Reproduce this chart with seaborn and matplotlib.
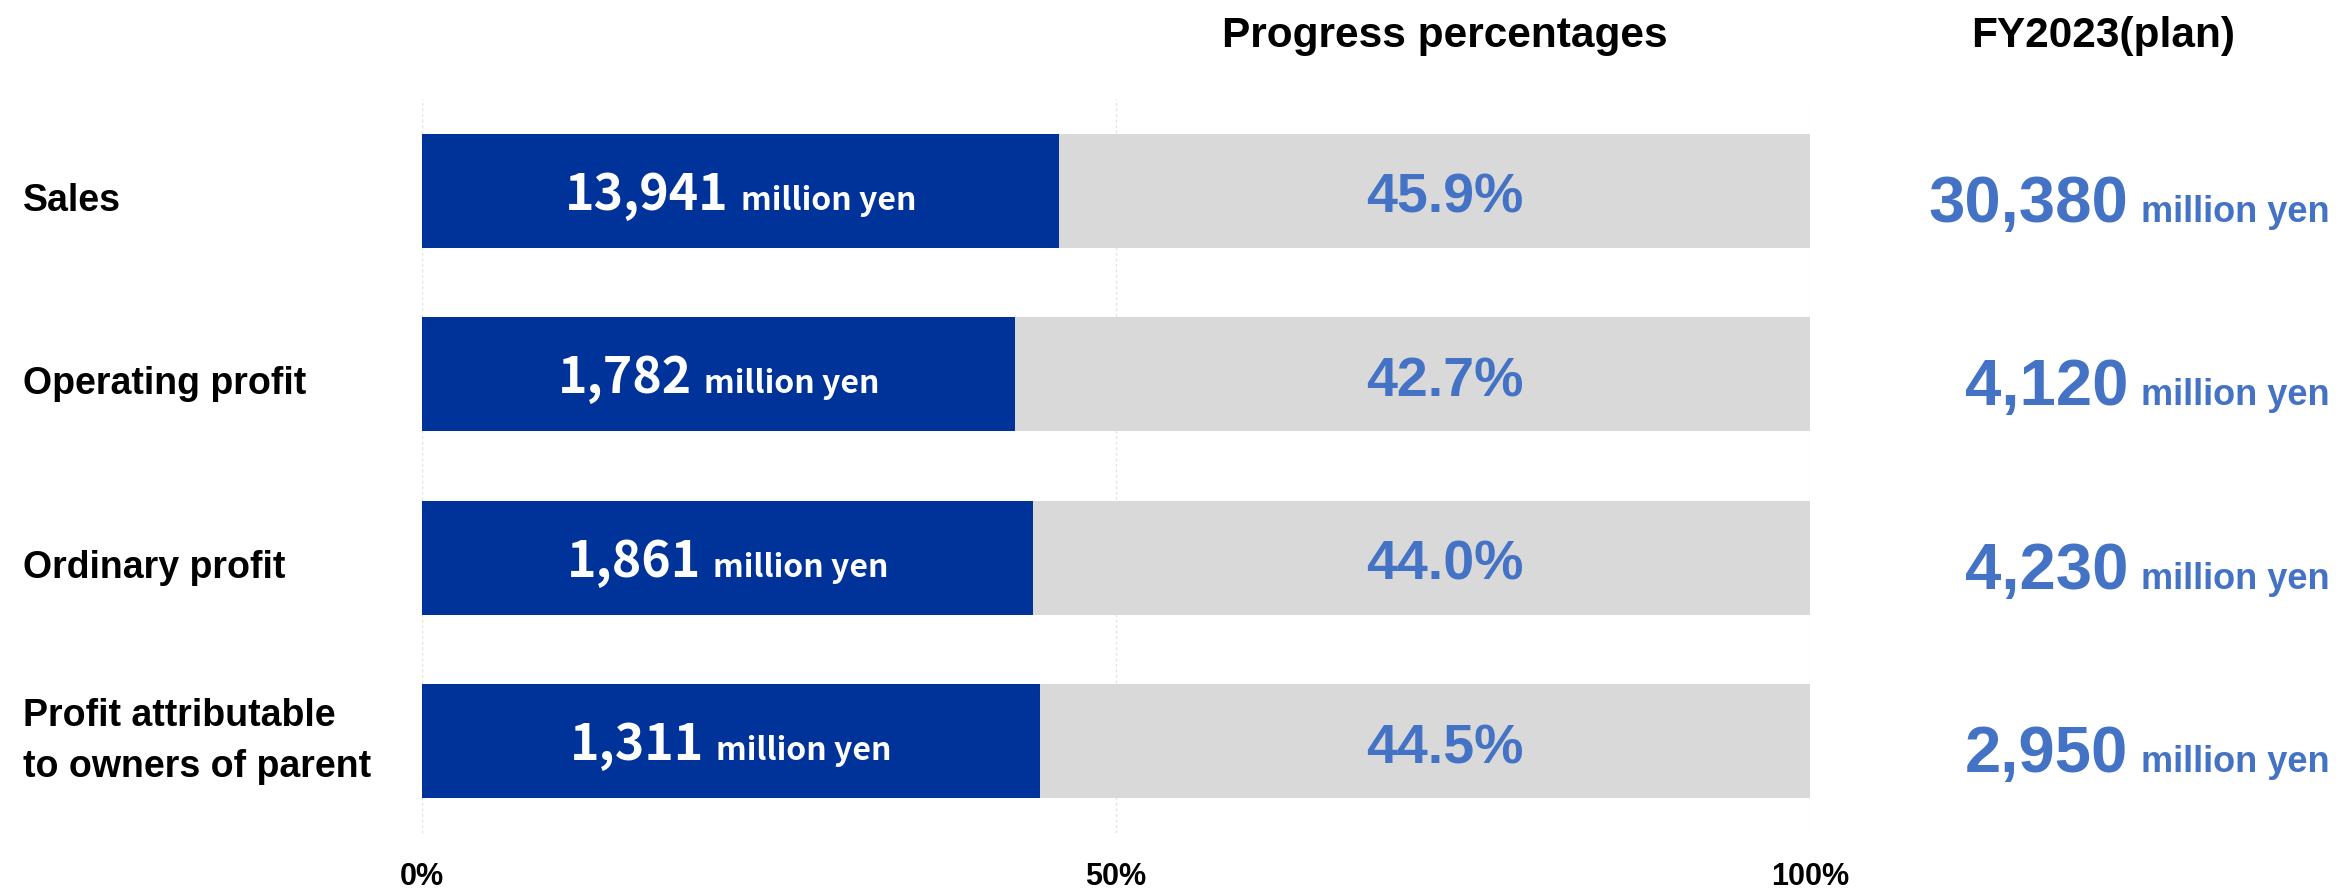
import matplotlib
matplotlib.use("Agg")
import matplotlib.pyplot as plt
import seaborn as sns
import pandas as pd

# Half-year results against the full-year plan
categories = ["Sales", "Operating profit", "Ordinary profit",
              "Profit attributable\nto owners of parent"]
results = ["13,941", "1,782", "1,861", "1,311"]      # million yen
progress = [45.9, 42.7, 44.0, 44.5]                  # % of plan
plans = ["30,380", "4,120", "4,230", "2,950"]        # FY2023 plan, million yen
x_ticks = [0, 50, 100]
x_tick_labels = ["0%", "50%", "100%"]
unit = "million yen"

W, H, DPI = 2339, 888, 100
NAVY = "#003399"
GREY = "#D9D9D9"
BLUE = "#4472C4"

sns.set_theme(style="white")
plt.rcParams["font.family"] = ["Liberation Sans", "DejaVu Sans"]
LABEL_FONT = ["Noto Sans CJK JP", "DejaVu Sans"]

fig = plt.figure(figsize=(W / DPI, H / DPI), dpi=DPI)
ax = fig.add_axes([422 / W, 1 - 833 / H, (1810 - 422) / W, (833 - 99) / H])

df = pd.DataFrame({"item": categories, "progress": progress,
                   "full": [100] * len(categories)})
sns.barplot(data=df, y="item", x="full", color=GREY, width=0.62,
            saturation=1, linewidth=0, ax=ax)
sns.barplot(data=df, y="item", x="progress", color=NAVY, width=0.62,
            saturation=1, linewidth=0, ax=ax)

ax.set_xlim(0, 100)
ax.set_xticks(x_ticks)
ax.set_xticklabels(x_tick_labels, fontsize=22, fontweight="bold", color="black")
ax.tick_params(axis="x", length=0, pad=21)
ax.set_yticks([])
ax.set_xlabel("")
ax.set_ylabel("")
for s in ax.spines.values():
    s.set_visible(False)
ax.grid(axis="x", color="#E3E3E3", linestyle=(0, (2, 2)), linewidth=1)
ax.set_axisbelow(True)

fig.canvas.draw()
renderer = fig.canvas.get_renderer()


def put(xp, yp, s, **kw):
    """Place text at display pixel coordinates (origin bottom-left)."""
    return fig.text(xp / W, yp / H, s, **kw)


def width(t):
    return t.get_window_extent(renderer).width


# Column headers
put(1445, H - 47, "Progress percentages", ha="center", va="baseline",
    fontsize=30.5, fontweight="bold", color="black")
put(2103, H - 47, "FY2023(plan)", ha="center", va="baseline",
    fontsize=30.5, fontweight="bold", color="black")

for i, cat in enumerate(categories):
    cx, cy = ax.transData.transform((progress[i] / 2, i))

    # Row label on the left
    shift = 0 if "\n" in cat else 10
    put(23, cy - shift, cat, ha="left", va="center", fontsize=27,
        fontweight="bold", color="black", linespacing=1.55)

    # Result inside the navy bar: big number + small unit, centred together
    base = cy - 19
    tn = put(0, base, results[i], ha="left", va="baseline", fontsize=36,
             fontweight="bold", color="white", family=LABEL_FONT)
    tu = put(0, base, unit, ha="left", va="baseline", fontsize=23,
             fontweight="bold", color="white", family=LABEL_FONT)
    gap = 12
    total = width(tn) + gap + width(tu)
    left = cx - total / 2
    tn.set_x(left / W)
    tu.set_x((left + width(tn) + gap) / W)

    # Progress percentage in the grey part
    put(1445, cy - 22, f"{progress[i]:.1f}%", ha="center", va="baseline",
        fontsize=40, fontweight="bold", color=BLUE)

    # Plan figure on the right, right aligned
    pb = cy - 31
    tu2 = put(2330, pb, unit, ha="right", va="baseline", fontsize=26,
              fontweight="bold", color=BLUE)
    put(2330 - width(tu2) - 13, pb, plans[i], ha="right", va="baseline",
        fontsize=47, fontweight="bold", color=BLUE)

fig.savefig("out.png", dpi=DPI, facecolor="white")
